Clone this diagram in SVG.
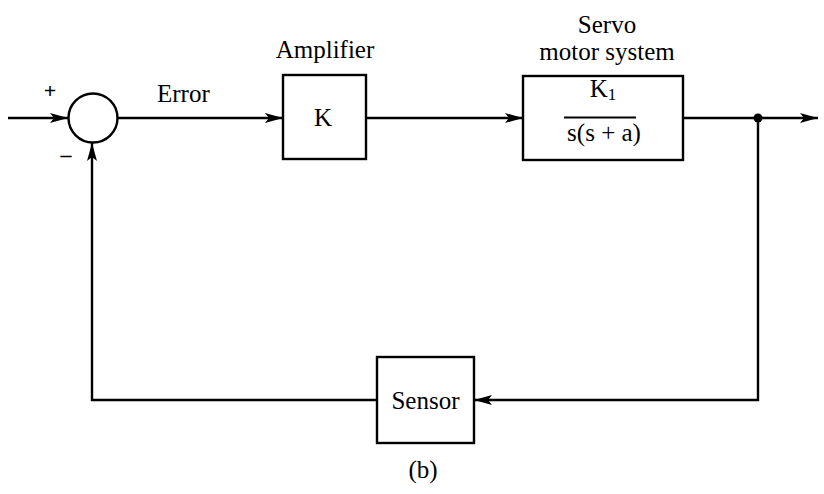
<svg xmlns="http://www.w3.org/2000/svg" width="824" height="494" viewBox="0 0 824 494">
<defs>
<marker id="arr" viewBox="0 0 18 10" refX="18" refY="5" markerWidth="18" markerHeight="10" markerUnits="userSpaceOnUse" orient="auto">
<path d="M0,0 L18,5 L0,10 L4,5 Z" fill="#000"/>
</marker>
</defs>
<style>
.blk{fill:#fff;stroke:#000;stroke-width:2.4}
.ln{fill:none;stroke:#000;stroke-width:2.4}
text{font-family:"Liberation Serif","Times New Roman",serif;fill:#000}
.lbl{font-size:25px}
</style>
<rect width="824" height="494" fill="#fff"/>
<g id="connectors">
<line class="ln" x1="8" y1="118" x2="68" y2="118" marker-end="url(#arr)"/>
<line class="ln" x1="118" y1="118" x2="283" y2="118" marker-end="url(#arr)"/>
<line class="ln" x1="366" y1="118" x2="523" y2="118" marker-end="url(#arr)"/>
<line class="ln" x1="683" y1="118" x2="818" y2="118" marker-end="url(#arr)"/>
<polyline class="ln" points="758,118 758,400 474,400" marker-end="url(#arr)"/>
<polyline class="ln" points="377,400 92,400 92,143" marker-end="url(#arr)"/>
<circle cx="758" cy="118" r="4.5" fill="#000"/>
<text x="157" y="102" class="lbl">Error</text>
<text x="50" y="98" font-size="22px" font-weight="bold" text-anchor="middle" font-family="Liberation Sans">+</text>
<text x="66" y="162" font-size="22px" font-weight="bold" text-anchor="middle" font-family="Liberation Sans">–</text>
</g>
<g id="sum">
<circle cx="93" cy="118" r="24.5" class="blk"/>
</g>
<g id="amplifier">
<rect x="283" y="75" width="83" height="84" class="blk"/>
<text x="325" y="58" class="lbl" text-anchor="middle">Amplifier</text>
<text x="323" y="126" class="lbl" text-anchor="middle">K</text>
</g>
<g id="servo">
<rect x="523" y="76" width="160" height="84" class="blk"/>
<text x="607" y="33" class="lbl" text-anchor="middle">Servo</text>
<text x="607" y="60" class="lbl" text-anchor="middle">motor system</text>
<text x="603" y="97" class="lbl" text-anchor="middle">K<tspan font-size="17px" dy="3">1</tspan></text>
<line x1="564" y1="117.5" x2="636" y2="117.5" stroke="#000" stroke-width="2"/>
<text x="604" y="141" class="lbl" text-anchor="middle">s(s + a)</text>
</g>
<g id="sensor">
<rect x="377" y="357" width="97" height="86" class="blk"/>
<text x="425.5" y="409" class="lbl" text-anchor="middle">Sensor</text>
</g>
<text x="423" y="478" class="lbl" text-anchor="middle">(b)</text>
</svg>
